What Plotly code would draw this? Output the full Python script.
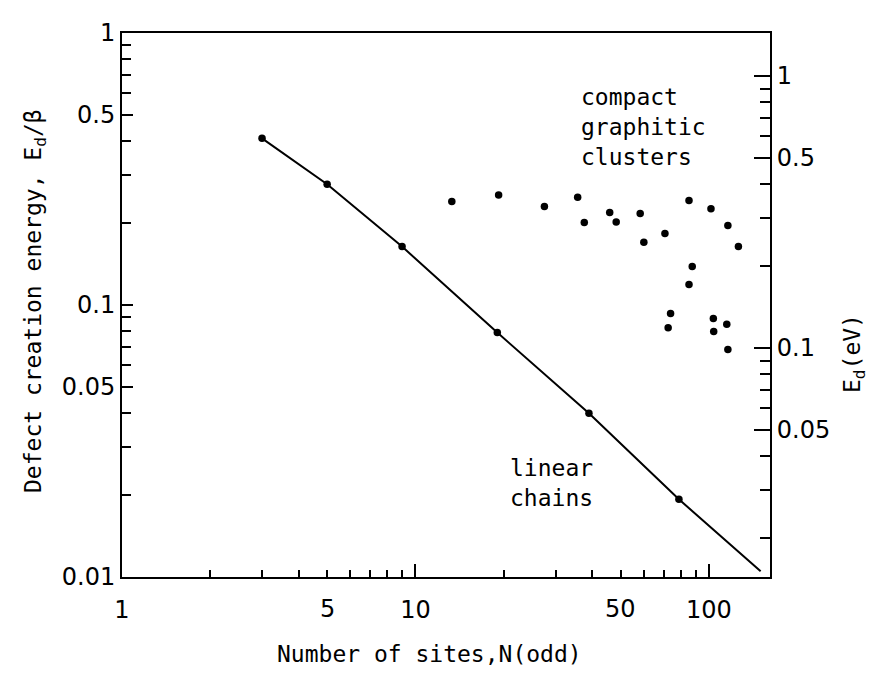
import numpy as np
import plotly.graph_objects as go

# ---- data ----
chain_N = [3, 5, 9, 19, 39, 79]
chain_E = [0.41, 0.278, 0.164, 0.0792, 0.040, 0.0193]
chain_line_N = [3, 5, 9, 19, 39, 79, 150]
chain_line_E = [0.41, 0.278, 0.164, 0.0792, 0.040, 0.0193, 0.0105]

cluster_N = [13.3, 19.2, 27.5, 35.7, 37.6, 45.9, 48.3, 58.3, 60.0, 70.8, 85.5,
             101.6, 116, 126, 87.7, 85.5, 74.0, 72.6, 103.5, 103.8, 115, 116]
cluster_E = [0.240, 0.254, 0.230, 0.249, 0.201, 0.219, 0.202, 0.217, 0.170, 0.183, 0.242,
             0.226, 0.196, 0.164, 0.1386, 0.119, 0.093, 0.0824, 0.0892, 0.0799, 0.085, 0.0686]

beta_eV = 1.44  # scale between left (E_d/beta) and right (E_d in eV) axes

x_major = [1, 10, 100]
x_major_text = ["1", "10", "100"]
x_minor = [2, 3, 4, 5, 6, 7, 8, 9, 20, 30, 40, 50, 60, 70, 80, 90]
x_extra_labels = [5, 50]

yl_major = [0.01, 0.05, 0.1, 0.5, 1]
yl_major_text = ["0.01", "0.05", "0.1", "0.5", "1"]
yl_minor = [0.02, 0.03, 0.04, 0.06, 0.07, 0.08, 0.09, 0.2, 0.3, 0.4, 0.6, 0.7, 0.8, 0.9]

yr_major = [0.05, 0.1, 0.5, 1]
yr_major_text = ["0.05", "0.1", "0.5", "1"]
yr_minor = [0.02, 0.03, 0.04, 0.06, 0.07, 0.08, 0.09, 0.2, 0.3, 0.4, 0.6, 0.7, 0.8, 0.9]

TICKFONT = "DejaVu Sans"
TEXTFONT = "DejaVu Sans Mono"
TFS = 24
FS = 23

fig = go.Figure()
fig.add_trace(go.Scatter(x=chain_line_N, y=chain_line_E, mode="lines",
                         line=dict(color="black", width=2), showlegend=False, hoverinfo="skip"))
fig.add_trace(go.Scatter(x=chain_N, y=chain_E, mode="markers",
                         marker=dict(color="black", size=7.5), showlegend=False))
fig.add_trace(go.Scatter(x=cluster_N, y=cluster_E, mode="markers",
                         marker=dict(color="black", size=7.5), showlegend=False))
# empty trace to attach the right-hand eV axis
fig.add_trace(go.Scatter(x=[], y=[], yaxis="y2", showlegend=False))

W, H = 874, 673
ml, mr, mt, mb = 114, 112, 25, 104

xrange_log = [0, 2.208]
tickfont = dict(family=TICKFONT, size=TFS, color="black")
fig.update_layout(
    width=W, height=H,
    margin=dict(l=ml, r=mr, t=mt, b=mb),
    plot_bgcolor="white", paper_bgcolor="white",
    font=dict(family=TEXTFONT, size=FS, color="black"),
    xaxis=dict(type="log", range=xrange_log, showgrid=False, zeroline=False,
               showline=True, linecolor="black", linewidth=2, mirror=True,
               tickmode="array", tickvals=x_major, ticktext=x_major_text,
               ticks="inside", ticklen=13, tickwidth=1.5, tickcolor="black",
               minor=dict(tickmode="array", tickvals=x_minor, ticks="inside",
                          ticklen=7, tickwidth=1.5, tickcolor="black"),
               tickfont=tickfont, ticklabelstandoff=10),
    yaxis=dict(type="log", range=[-2, 0], showgrid=False, zeroline=False,
               showline=True, linecolor="black", linewidth=2, mirror=False,
               tickmode="array", tickvals=yl_major, ticktext=yl_major_text,
               ticks="inside", ticklen=11, tickwidth=1.5, tickcolor="black",
               minor=dict(tickmode="array", tickvals=yl_minor, ticks="inside",
                          ticklen=9, tickwidth=1.5, tickcolor="black"),
               tickfont=tickfont),
    yaxis2=dict(type="log", overlaying="y", side="right",
                range=[np.log10(0.01 * beta_eV), np.log10(beta_eV)],
                showgrid=False, zeroline=False,
                showline=True, linecolor="black", linewidth=2,
                tickmode="array", tickvals=yr_major, ticktext=yr_major_text,
                ticks="inside", ticklen=16, tickwidth=1.5, tickcolor="black",
                minor=dict(tickmode="array", tickvals=yr_minor, ticks="inside",
                           ticklen=10, tickwidth=1.5, tickcolor="black"),
                tickfont=tickfont),
)

pw = W - ml - mr
ph = H - mt - mb

def px_x(p):
    return (p - ml) / pw

def px_y(p):
    return (H - mb - p) / ph

ann = []
for v in x_extra_labels:
    ann.append(dict(x=np.log10(v), xref="x", y=0, yref="paper", yshift=-16,
                    text=str(v), showarrow=False, yanchor="top",
                    font=tickfont))
ann.append(dict(x=px_x(571), y=px_y(119), xref="paper", yref="paper",
                text="compact<br>graphitic<br>clusters", showarrow=False,
                xanchor="left", yanchor="middle", align="left"))
ann.append(dict(x=px_x(500), y=px_y(475), xref="paper", yref="paper",
                text="linear<br>chains", showarrow=False,
                xanchor="left", yanchor="middle", align="left"))
ann.append(dict(x=px_x(27), y=px_y(293), xref="paper", yref="paper",
                text="Defect creation energy, E<sub>d</sub>/β", textangle=-90,
                showarrow=False, xanchor="center", yanchor="middle"))
ann.append(dict(x=px_x(846), y=px_y(345), xref="paper", yref="paper",
                text="E<sub>d</sub>(eV)", textangle=-90,
                showarrow=False, xanchor="center", yanchor="middle"))
ann.append(dict(x=px_x(421), y=px_y(646), xref="paper", yref="paper",
                text="Number of sites,N(odd)",
                showarrow=False, xanchor="center", yanchor="middle"))
fig.update_layout(annotations=ann)

fig.write_html("out.html")
